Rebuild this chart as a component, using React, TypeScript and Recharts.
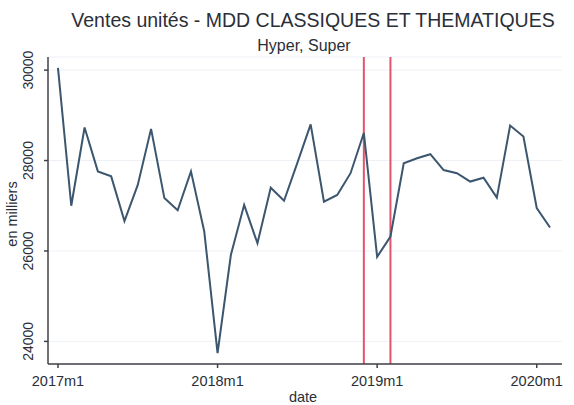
import {
  LineChart,
  Line,
  XAxis,
  YAxis,
  CartesianGrid,
  ReferenceLine,
} from "recharts";

// monthly periods 2017m1 .. 2020m2
const periods = [
  "2017m1", "2017m2", "2017m3", "2017m4", "2017m5", "2017m6", "2017m7", "2017m8",
  "2017m9", "2017m10", "2017m11", "2017m12",
  "2018m1", "2018m2", "2018m3", "2018m4", "2018m5", "2018m6", "2018m7", "2018m8",
  "2018m9", "2018m10", "2018m11", "2018m12",
  "2019m1", "2019m2", "2019m3", "2019m4", "2019m5", "2019m6", "2019m7", "2019m8",
  "2019m9", "2019m10", "2019m11", "2019m12",
  "2020m1", "2020m2",
];

// ventes en milliers d'unités
const ventes = [
  30050, 27000, 28730, 27760, 27650, 26660, 27460, 28700,
  27170, 26900, 27760, 26430,
  23740, 25910, 27020, 26170, 27400, 27110, 27950, 28800,
  27090, 27240, 27720, 28610,
  25870, 26320, 27940, 28050, 28140, 27790, 27720, 27535,
  27620, 27180, 28775, 28530,
  26950, 26520,
];

const xTicks = [0, 12, 24, 36];
const yTicks = [24000, 26000, 28000, 30000];
const markers = [23, 25]; // 2018m12, 2019m2

const data = ventes.map((v, i) => ({ t: i, ventes: v }));

const font = "'Liberation Sans', Arial, sans-serif";
const textColor = "#2a2f38";
const axisColor = "#3f4246";

function YTick(props: any) {
  const { x, y, payload } = props;
  return (
    <text
      x={x - 14}
      y={y}
      transform={`rotate(-90, ${x - 14}, ${y})`}
      textAnchor="middle"
      dominantBaseline="central"
      fontSize={14}
      fontFamily={font}
      fill={textColor}
    >
      {payload.value}
    </text>
  );
}

function XTick(props: any) {
  const { x, y, payload } = props;
  return (
    <text
      x={x}
      y={y + 16}
      textAnchor="middle"
      fontSize={14.5}
      fontFamily={font}
      fill={textColor}
    >
      {periods[payload.value]}
    </text>
  );
}

export default function App() {
  return (
    <div style={{ position: "absolute", left: 0, top: 0, width: 574, height: 405, background: "#fff" }}>
      <div
        style={{
          position: "absolute",
          left: 0,
          width: 626,
          top: 9,
          textAlign: "center",
          fontFamily: font,
          fontSize: 19.5,
          color: textColor,
          whiteSpace: "nowrap",
        }}
      >
        Ventes unités - MDD CLASSIQUES ET THEMATIQUES
      </div>
      <div
        style={{
          position: "absolute",
          left: 0,
          width: 608,
          top: 37,
          textAlign: "center",
          fontFamily: font,
          fontSize: 16,
          color: textColor,
        }}
      >
        Hyper, Super
      </div>
      <div
        style={{
          position: "absolute",
          left: 12,
          top: 214,
          transform: "translate(-50%, -50%) rotate(-90deg)",
          fontFamily: font,
          fontSize: 14.5,
          color: textColor,
          whiteSpace: "nowrap",
        }}
      >
        en milliers
      </div>
      <div
        style={{
          position: "absolute",
          left: 0,
          width: 606,
          top: 389,
          textAlign: "center",
          fontFamily: font,
          fontSize: 14.5,
          color: textColor,
        }}
      >
        date
      </div>
      <LineChart
        width={574}
        height={405}
        data={data}
        margin={{ top: 57, right: 12, bottom: 0, left: 0 }}
      >
        <CartesianGrid horizontal vertical={false} stroke="#edf1f6" />
        <XAxis
          dataKey="t"
          type="number"
          domain={[-0.75, 37.9]}
          ticks={xTicks}
          allowDataOverflow
          tick={<XTick />}
          tickSize={4}
          stroke={axisColor}
          strokeWidth={1.5}
          height={41}
        />
        <YAxis
          type="number"
          domain={[23500, 30290]}
          ticks={yTicks}
          allowDataOverflow
          tick={<YTick />}
          tickSize={4}
          stroke={axisColor}
          strokeWidth={1.5}
          width={48}
        />
        {markers.map((m) => (
          <ReferenceLine key={m} x={m} stroke="#e4536b" strokeWidth={2} />
        ))}
        <Line
          type="linear"
          dataKey="ventes"
          stroke="#3b566e"
          strokeWidth={2}
          dot={false}
          isAnimationActive={false}
        />
      </LineChart>
    </div>
  );
}
